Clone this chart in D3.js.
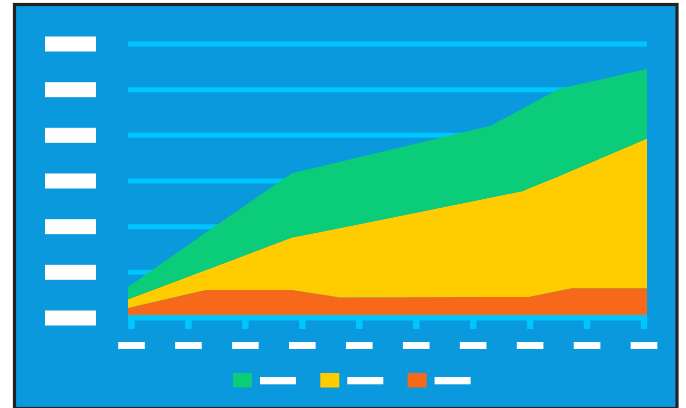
<!DOCTYPE html>
<html>
<head>
<meta charset="utf-8">
<script src="https://cdn.jsdelivr.net/npm/d3@7"></script>
<style>
  html, body { margin: 0; padding: 0; background: #ffffff; overflow: hidden; }
</style>
</head>
<body>
<div id="chart"></div>
<script>
// Stacked area chart with blank (placeholder) labels
const xCategories = ["1", "2", "3", "4", "5", "6", "7", "8", "9", "10"];
const yTicks = [0, 1, 2, 3, 4, 5, 6];
const seriesKeys = ["orange", "yellow", "green"];       // bottom to top
const legendKeys = ["green", "yellow", "orange"];

// positions of the area vertices along the x axis (0 = first category, 9 = last)
const samplePos    = [0,    1.35, 2.84, 3.68, 6.29, 6.85, 6.95, 7.46, 7.70, 9];
const orangeValues = [0.21, 0.60, 0.60, 0.44, 0.45, 0.45, 0.45, 0.58, 0.64, 0.64];
const yellowValues = [0.19, 0.44, 1.15, 1.52, 2.18, 2.32, 2.38, 2.51, 2.58, 3.28];
const greenValues  = [0.27, 0.82, 1.41, 1.45, 1.57, 1.81, 1.82, 1.91, 1.85, 1.52];

const colors = { green: "#0bcc78", yellow: "#ffcc00", orange: "#f6691a" };

const width = 686, height = 408;
const plotLeft = 128, plotRight = 647;

const rows = samplePos.map((p, i) => ({
    pos: p,
    orange: orangeValues[i],
    yellow: yellowValues[i],
    green: greenValues[i]
}));

const svg = d3.select("#chart").append("svg")
    .attr("width", width)
    .attr("height", height);

// frame
svg.append("rect")
    .attr("x", 14.5).attr("y", 4.5)
    .attr("width", 662.5).attr("height", 404)
    .attr("fill", "#0a99dd")
    .attr("stroke", "#222222")
    .attr("stroke-width", 3.2);

const x = d3.scaleLinear().domain([0, 9]).range([plotLeft, plotRight]);
const xCat = d3.scalePoint().domain(xCategories).range([131, 643.5]);
const y = d3.scaleLinear().domain([0, 6]).range([317.5, 43.5]);

// gridlines + y placeholder labels
const yAxis = svg.append("g")
    .attr("transform", `translate(${plotLeft},0)`)
    .call(d3.axisRight(y).tickValues(yTicks).tickSize(plotRight - plotLeft).tickFormat(""));
yAxis.select(".domain").remove();
yAxis.selectAll(".tick line")
    .attr("stroke", "#00c6ff")
    .attr("stroke-width", 5);
yAxis.selectAll(".tick").append("rect")
    .attr("x", 45 - plotLeft).attr("y", -7.5)
    .attr("width", 51).attr("height", 15)
    .attr("fill", "#ffffff");

// stacked areas
const stacked = d3.stack().keys(seriesKeys)(rows);
const area = d3.area()
    .x(d => x(d.data.pos))
    .y0(d => y(d[0]))
    .y1(d => y(d[1]));

svg.selectAll("path.layer")
    .data(stacked)
    .join("path")
    .attr("class", "layer")
    .attr("fill", d => colors[d.key])
    .attr("d", area);

// baseline and x ticks on top
svg.append("line")
    .attr("x1", plotLeft).attr("x2", plotRight)
    .attr("y1", y(0)).attr("y2", y(0))
    .attr("stroke", "#00c6ff")
    .attr("stroke-width", 5);

const xAxis = svg.append("g")
    .attr("transform", `translate(0,${y(0)})`)
    .call(d3.axisBottom(xCat).tickSize(11.5).tickFormat(""));
xAxis.select(".domain").remove();
xAxis.selectAll(".tick line")
    .attr("stroke", "#00c6ff")
    .attr("stroke-width", 6.5);
xAxis.selectAll(".tick").append("rect")
    .attr("x", -13.3).attr("y", 24.5)
    .attr("width", 26.6).attr("height", 7)
    .attr("fill", "#ffffff");

// legend
const legend = svg.append("g").selectAll("g")
    .data(legendKeys)
    .join("g")
    .attr("transform", (d, i) => `translate(${233 + i * 87.3},373)`);
legend.append("rect")
    .attr("width", 19).attr("height", 14.5)
    .attr("fill", d => colors[d]);
legend.append("rect")
    .attr("x", 27).attr("y", 4)
    .attr("width", 36).attr("height", 7.3)
    .attr("fill", "#ffffff");
</script>
</body>
</html>
